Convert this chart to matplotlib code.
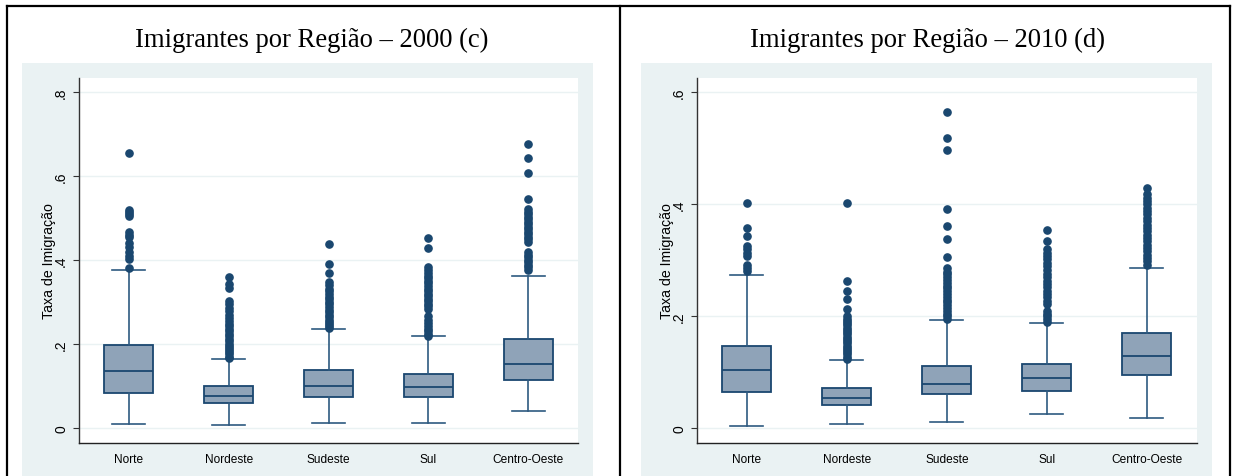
import matplotlib
matplotlib.use("Agg")
import matplotlib.pyplot as plt
from matplotlib.patches import Rectangle
from matplotlib.lines import Line2D
from matplotlib.ticker import FuncFormatter

regions = ["Norte", "Nordeste", "Sudeste", "Sul", "Centro-Oeste"]

# 2000 (c): box stats
q1_2000 = [0.083, 0.059, 0.074, 0.073, 0.115]
med_2000 = [0.135, 0.076, 0.099, 0.098, 0.153]
q3_2000 = [0.198, 0.099, 0.137, 0.129, 0.213]
lo_2000 = [0.010, 0.007, 0.012, 0.012, 0.040]
hi_2000 = [0.375, 0.164, 0.236, 0.218, 0.362]
out_2000 = [
    [0.38, 0.402, 0.41, 0.418, 0.43, 0.44, 0.454, 0.46, 0.466, 0.505, 0.51, 0.515, 0.52, 0.655],
    [0.166, 0.17, 0.175, 0.18, 0.185, 0.19, 0.195, 0.2, 0.206, 0.212, 0.218, 0.224, 0.23,
     0.236, 0.242, 0.248, 0.255, 0.262, 0.27, 0.278, 0.286, 0.294, 0.302, 0.333, 0.343, 0.36],
    [0.238, 0.243, 0.248, 0.253, 0.258, 0.264, 0.27, 0.276, 0.282, 0.288, 0.294, 0.3, 0.306,
     0.312, 0.318, 0.325, 0.332, 0.34, 0.347, 0.37, 0.39, 0.439],
    [0.218, 0.224, 0.23, 0.236, 0.242, 0.25, 0.258, 0.266, 0.284, 0.29, 0.296, 0.302, 0.308,
     0.314, 0.32, 0.326, 0.332, 0.338, 0.344, 0.35, 0.356, 0.362, 0.37, 0.376, 0.383, 0.429, 0.453],
    [0.376, 0.382, 0.388, 0.394, 0.4, 0.406, 0.412, 0.418, 0.443, 0.449, 0.455, 0.461, 0.467,
     0.473, 0.479, 0.485, 0.491, 0.497, 0.503, 0.509, 0.515, 0.521, 0.544, 0.606, 0.643, 0.677],
]

# 2010 (d)
q1_2010 = [0.065, 0.042, 0.061, 0.067, 0.096]
med_2010 = [0.105, 0.055, 0.080, 0.090, 0.130]
q3_2010 = [0.148, 0.073, 0.112, 0.115, 0.171]
lo_2010 = [0.005, 0.008, 0.011, 0.025, 0.018]
hi_2010 = [0.273, 0.122, 0.194, 0.188, 0.287]
out_2010 = [
    [0.281, 0.287, 0.292, 0.307, 0.314, 0.32, 0.325, 0.344, 0.358, 0.402],
    [0.124, 0.128, 0.132, 0.136, 0.14, 0.144, 0.148, 0.152, 0.156, 0.16, 0.164, 0.168, 0.172,
     0.176, 0.18, 0.184, 0.188, 0.192, 0.196, 0.2, 0.214, 0.231, 0.245, 0.264, 0.403],
    [0.196, 0.2, 0.205, 0.21, 0.215, 0.22, 0.225, 0.23, 0.235, 0.24, 0.245, 0.25, 0.255, 0.26,
     0.265, 0.27, 0.275, 0.28, 0.286, 0.306, 0.339, 0.361, 0.392, 0.497, 0.519, 0.564],
    [0.19, 0.195, 0.2, 0.205, 0.21, 0.222, 0.228, 0.234, 0.24, 0.246, 0.252, 0.258, 0.264,
     0.27, 0.276, 0.282, 0.29, 0.296, 0.302, 0.308, 0.314, 0.32, 0.334, 0.354],
    [0.292, 0.298, 0.304, 0.31, 0.316, 0.322, 0.328, 0.334, 0.34, 0.346, 0.352, 0.358, 0.364,
     0.37, 0.376, 0.382, 0.388, 0.394, 0.4, 0.406, 0.412, 0.418, 0.43],
]

NAVY = "#1A476F"
FILL = "#8FA3B8"
BG = "#EAF2F3"

plt.rcParams["font.family"] = ["Liberation Sans", "DejaVu Sans"]

fig = plt.figure(figsize=(12.34, 4.77), dpi=100)
W, H = 1234.0, 477.0


def px(x0, y0, x1, y1):
    # pixel box (top-left origin) -> figure rect
    return [x0 / W, 1 - y1 / H, (x1 - x0) / W, (y1 - y0) / H]


# light background panels
for x0, x1 in [(22, 593), (641, 1212)]:
    r = px(x0, 64, x1, 477)
    fig.patches.append(Rectangle((r[0], r[1]), r[2], r[3], transform=fig.transFigure,
                                 facecolor=BG, edgecolor="none", zorder=-5))

# table borders
fig.lines.append(Line2D([7 / W, 1230 / W], [1 - 7 / H, 1 - 7 / H], transform=fig.transFigure,
                        color="black", lw=1.6))
for xb in [7, 620, 1230]:
    fig.lines.append(Line2D([xb / W, xb / W], [0, 1 - 7 / H], transform=fig.transFigure,
                            color="black", lw=1.6))


def draw_panel(rect, q1, med, q3, lo, hi, outs, ylim, ticks, title, title_x):
    ax = fig.add_axes(rect)
    ax.set_zorder(2)
    ax.set_facecolor("white")
    stats = []
    for i in range(len(regions)):
        stats.append(dict(q1=q1[i], med=med[i], q3=q3[i], whislo=lo[i], whishi=hi[i],
                          fliers=outs[i], label=regions[i]))
    ax.bxp(stats, positions=range(1, 6), widths=0.49, patch_artist=True,
           boxprops=dict(facecolor=FILL, edgecolor=NAVY, linewidth=1.3),
           medianprops=dict(color=NAVY, linewidth=1.3),
           whiskerprops=dict(color="#2E5A80", linewidth=1.2),
           capprops=dict(color="#2E5A80", linewidth=1.2),
           capwidths=0.33,
           flierprops=dict(marker="o", markerfacecolor=NAVY, markeredgecolor=NAVY,
                           markersize=5.2, linestyle="none"))
    ax.set_xlim(0.5, 5.5)
    ax.set_ylim(*ylim)
    ax.set_yticks(ticks)
    ax.yaxis.set_major_formatter(FuncFormatter(lambda v, p: "0" if v == 0 else f"{v:g}".lstrip("0")))
    for t in ticks:
        ax.axhline(t, color=BG, lw=1.0, zorder=0)
    ax.tick_params(axis="y", labelrotation=90, labelsize=10, length=4.3, width=0.8,
                   color="#333333", pad=3.5)
    ax.tick_params(axis="x", length=0, labelsize=8.6, pad=7)
    for lab in ax.get_yticklabels():
        lab.set_va("center")
    ax.spines["top"].set_visible(False)
    ax.spines["right"].set_visible(False)
    ax.spines["left"].set_color("#333333")
    ax.spines["bottom"].set_color("#222222")
    ax.spines["left"].set_linewidth(1.0)
    ax.spines["bottom"].set_linewidth(1.0)
    ax.set_ylabel("Taxa de Imigração", fontsize=10.2, labelpad=-1.5)
    fig.text(title_x / W, 1 - 40 / H, title, ha="center", va="center",
             family=["Liberation Serif", "DejaVu Serif"], fontsize=19.2)
    return ax


draw_panel(px(79, 79, 578, 444), q1_2000, med_2000, q3_2000, lo_2000, hi_2000, out_2000,
           (-0.0357, 0.833), [0, 0.2, 0.4, 0.6, 0.8], "Imigrantes por Região – 2000 (c)", 312)
draw_panel(px(697, 79, 1196.7, 444), q1_2010, med_2010, q3_2010, lo_2010, hi_2010, out_2010,
           (-0.026, 0.6255), [0, 0.2, 0.4, 0.6], "Imigrantes por Região – 2010 (d)", 928)

fig.savefig("out.png", dpi=100)
